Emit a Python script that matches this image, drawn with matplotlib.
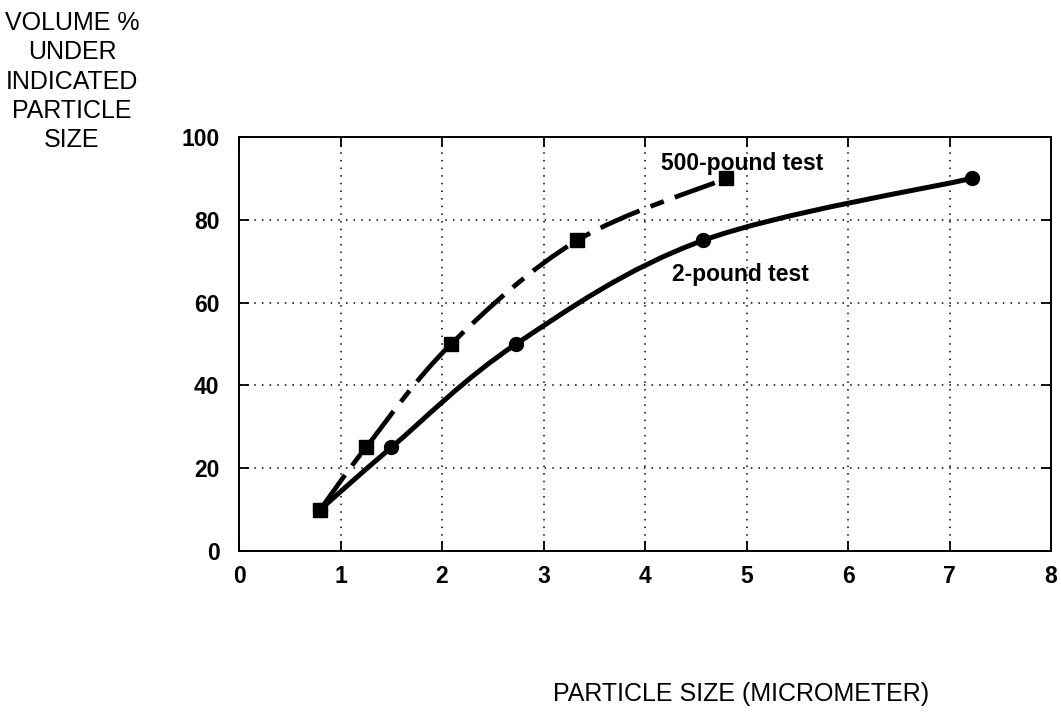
import matplotlib
matplotlib.use('Agg')
import matplotlib.pyplot as plt
from matplotlib.path import Path
from matplotlib.patches import PathPatch
import numpy as np

# values
size_2lb = [0.8, 1.5, 2.73, 4.57, 7.22]
vol_2lb = [10, 25, 50, 75, 90]
size_500lb = [0.8, 1.25, 2.09, 3.33, 4.8]
vol_500lb = [10, 25, 50, 75, 90]
x_ticks = [0, 1, 2, 3, 4, 5, 6, 7, 8]
y_ticks = [0, 20, 40, 60, 80, 100]

plt.rcParams['font.family'] = ['Liberation Sans', 'DejaVu Sans']


def smooth_path(xs, ys):
    """Catmull-Rom curve through the points, as cubic Bezier segments."""
    pts = np.column_stack([xs, ys]).astype(float)
    ext = np.vstack([pts[0], pts, pts[-1]])
    verts = [pts[0]]
    codes = [Path.MOVETO]
    for i in range(1, len(ext) - 2):
        p0, p1, p2, p3 = ext[i - 1], ext[i], ext[i + 1], ext[i + 2]
        verts += [p1 + (p2 - p0) / 6, p2 - (p3 - p1) / 6, p2]
        codes += [Path.CURVE4] * 3
    return Path(verts, codes)


fig = plt.figure(figsize=(10.61, 7.13), dpi=100)
ax = fig.add_axes([0.2253, 0.2272, 0.7653, 0.5807])

ax.add_patch(PathPatch(smooth_path(size_2lb, vol_2lb), fill=False,
                       edgecolor='black', lw=3.6, capstyle='round'))
ax.add_patch(PathPatch(smooth_path(size_500lb, vol_500lb), fill=False,
                       edgecolor='black', lw=3.4,
                       linestyle=(0, (9, 2.5, 3, 2.5))))
ax.plot(size_500lb, vol_500lb, 's', color='black', ms=9.5, zorder=3)
ax.plot(size_2lb, vol_2lb, 'o', color='black', ms=10, zorder=4)

ax.text(4.16, 93.5, '500-pound test', fontsize=16.5, fontweight='bold',
        va='center', ha='left')
ax.text(4.27, 66.9, '2-pound test', fontsize=16.5, fontweight='bold',
        va='center', ha='left')

ax.set_xlim(0, 8)
ax.set_ylim(0, 100)
ax.set_xticks(x_ticks)
ax.set_yticks(y_ticks)
ax.grid(True, color='black', lw=1.1, linestyle=(0, (1, 4)))
ax.tick_params(direction='in', length=7, width=1.3, labelsize=16.5,
               top=True, right=True)
ax.tick_params(axis='x', pad=10)
ax.tick_params(axis='y', pad=14)
for lbl in ax.get_xticklabels() + ax.get_yticklabels():
    lbl.set_fontweight('bold')
for sp in ax.spines.values():
    sp.set_linewidth(1.4)

fig.text(741.5 / 1061, 1 - 694 / 713, 'PARTICLE SIZE (MICROMETER)',
         fontsize=18, ha='center', va='center')
fig.text(72 / 1061, 1 - 11 / 713, 'VOLUME %\nUNDER\nINDICATED\nPARTICLE\nSIZE',
         fontsize=18, ha='center', va='top', multialignment='center',
         linespacing=1.28)

fig.savefig('out.png', dpi=100)
